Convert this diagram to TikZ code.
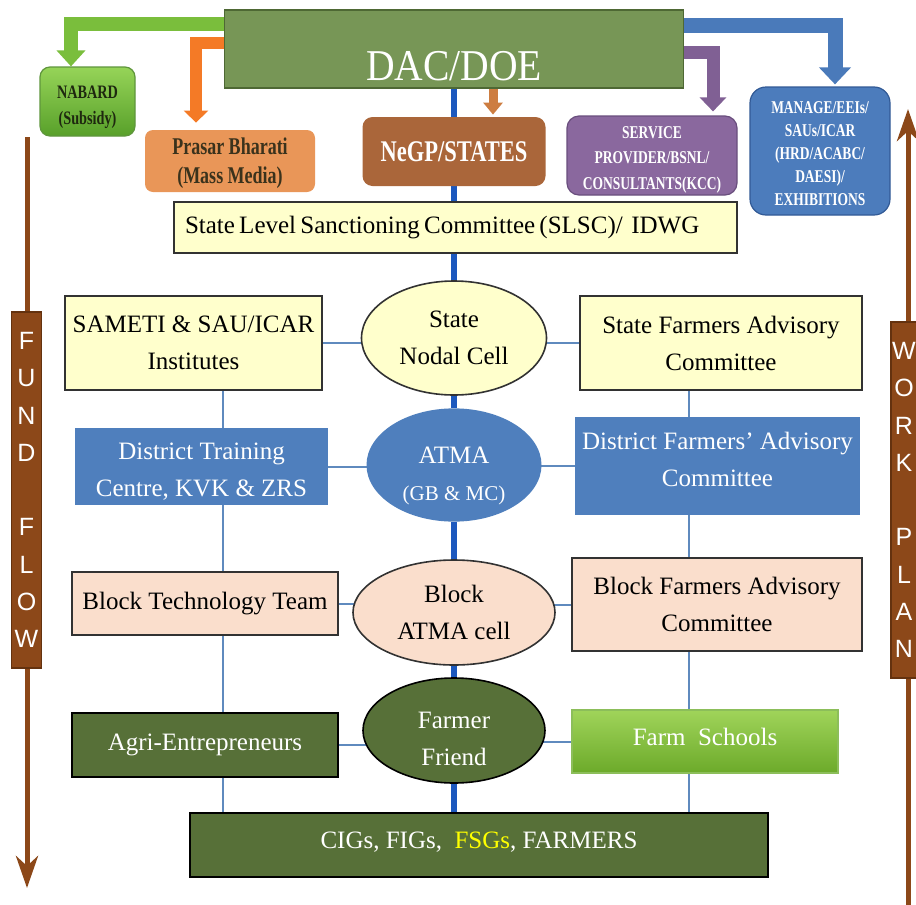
\documentclass[tikz,border=0pt]{standalone}
\usepackage{fontspec}
\setmainfont{Liberation Serif}
\setsansfont{Liberation Sans}
\newfontfamily\condfont[FakeStretch=0.75]{Liberation Serif}
\newfontfamily\semifont[FakeStretch=0.9]{Liberation Serif}
\usetikzlibrary{shapes.geometric,arrows.meta,backgrounds}
\definecolor{dacg}{RGB}{119,150,86}
\definecolor{dacb}{RGB}{78,104,52}
\definecolor{garr}{RGB}{122,190,60}
\definecolor{oarr}{RGB}{244,122,38}
\definecolor{parr}{RGB}{128,96,148}
\definecolor{barr}{RGB}{74,122,186}
\definecolor{brarr}{RGB}{205,125,65}
\definecolor{nbA}{RGB}{150,212,88}
\definecolor{nbB}{RGB}{88,160,42}
\definecolor{nbline}{RGB}{95,150,60}
\definecolor{nabtext}{RGB}{30,40,15}
\definecolor{prasf}{RGB}{233,150,88}
\definecolor{prast}{RGB}{58,50,28}
\definecolor{negpf}{RGB}{170,102,58}
\definecolor{servf}{RGB}{138,104,158}
\definecolor{servl}{RGB}{105,78,125}
\definecolor{manf}{RGB}{76,124,188}
\definecolor{manl}{RGB}{50,90,150}
\definecolor{ylw}{RGB}{255,255,204}
\definecolor{bline}{RGB}{50,50,50}
\definecolor{bluef}{RGB}{79,127,189}
\definecolor{pch}{RGB}{250,222,204}
\definecolor{dgr}{RGB}{87,112,56}
\definecolor{fsA}{RGB}{160,212,90}
\definecolor{fsB}{RGB}{108,170,42}
\definecolor{fsl}{RGB}{140,190,90}
\definecolor{fsg}{RGB}{255,255,0}
\definecolor{tcol}{RGB}{95,138,190}
\definecolor{ccol}{RGB}{28,88,190}
\definecolor{brn}{RGB}{140,72,25}
\definecolor{brnl}{RGB}{100,50,15}
% invisible struts to nudge text inside a node
\newcommand\upstrut[1]{\rule{0pt}{#1}}
\newcommand\dnstrut[1]{\rule[-#1]{0pt}{#1}}
\tikzset{
  sz/.style 2 args={minimum width=#1*0.5pt, minimum height=#2*0.5pt},
  base/.style={inner sep=0pt, align=center, font=\fontsize{12.5}{18.5}\selectfont},
  yel/.style={base, rectangle, fill=ylw, draw=bline, line width=0.8pt},
  yelell/.style={yel, ellipse},
  bluebox/.style={base, rectangle, fill=bluef, text=white},
  blueell/.style={bluebox, ellipse},
  peach/.style={base, rectangle, fill=pch, draw=bline, line width=0.8pt},
  peachell/.style={peach, ellipse},
  dgreen/.style={base, rectangle, fill=dgr, draw=black, line width=0.8pt, text=white},
  greenell/.style={dgreen, ellipse},
  fschool/.style={base, rectangle, top color=fsA, bottom color=fsB, draw=fsl, line width=0.6pt, text=white},
  dacbox/.style={inner sep=0pt, rectangle, fill=dacg, draw=dacb, line width=0.8pt, text=white,
    font=\semifont\fontsize{22}{26}\selectfont, text height=31pt, text depth=0pt},
  nab/.style={inner sep=0pt, align=center, rounded corners=5pt, top color=nbA, bottom color=nbB,
    draw=nbline, line width=0.6pt, text=nabtext, font=\condfont\bfseries\fontsize{9.5}{13}\selectfont},
  pras/.style={inner sep=0pt, align=center, rounded corners=4pt, fill=prasf, text=prast,
    font=\condfont\bfseries\fontsize{12}{14.5}\selectfont},
  negpst/.style={inner sep=0pt, align=center, rounded corners=5pt, fill=negpf, text=white,
    font=\condfont\bfseries\fontsize{15}{17}\selectfont},
  serv/.style={inner sep=0pt, align=center, rounded corners=6pt, fill=servf, draw=servl, line width=0.6pt,
    text=white, font=\condfont\bfseries\fontsize{9}{12.75}\selectfont},
  man/.style={inner sep=0pt, align=center, rounded corners=8pt, fill=manf, draw=manl, line width=0.6pt,
    text=white, font=\condfont\bfseries\fontsize{9}{11.5}\selectfont},
  flowbox/.style={inner sep=0pt, align=center, rectangle, fill=brn, draw=brnl, line width=0.6pt,
    text=white, font=\sffamily\fontsize{12.5}{18.65}\selectfont},
  garrow/.style={draw=garr, line width=7pt, -{Triangle[width=14pt,length=8pt]}},
  oarrow/.style={draw=oarr, line width=6pt, -{Triangle[width=12pt,length=6pt]}, shorten >=3.5pt},
  parrow/.style={draw=parr, line width=6.5pt, -{Triangle[width=13pt,length=7pt]}, shorten >=2pt},
  barrow/.style={draw=barr, line width=7.5pt, -{Triangle[width=15.5pt,length=8.5pt]}, shorten >=1pt},
  brarrow/.style={draw=brarr, line width=4.5pt, -{Triangle[width=9.5pt,length=6pt]}, shorten >=1pt},
  fund/.style={draw=brn, line width=2.5pt, -{Stealth[width=11pt,length=16pt,inset=5pt]}},
  tline/.style={draw=tcol, line width=1pt},
  cline/.style={draw=ccol, line width=3pt}
}
\begin{document}
\begin{tikzpicture}[x=0.5pt,y=-0.5pt]
\useasboundingbox (0,0) rectangle (916,905);

% top level
\node[dacbox, sz={459}{78}] (dac) at (454,49) {DAC/DOE};
\node[nab, sz={95}{69}] (nabard) at (87.5,101.5) {\upstrut{12.3pt}NABARD\\(Subsidy)};
\node[pras, sz={170}{62}] (prasar) at (230,161) {\upstrut{11pt}Prasar Bharati\\(Mass Media)};
\node[negpst, sz={183}{69}] (negp) at (454,151.5) {NeGP/STATES};
\node[serv, sz={170}{79}] (service) at (652,155.5) {\upstrut{10pt}SERVICE\\PROVIDER/BSNL/\\CONSULTANTS(KCC)};
\node[man, sz={140}{128}] (manage) at (820,151) {\upstrut{9pt}MANAGE/EEIs/\\SAUs/ICAR\\(HRD/ACABC/\\DAESI)/\\EXHIBITIONS};

% state level
\node[yel, sz={563}{51}] (slsc) at (455.5,227.5)
  {\makebox[270.5pt][l]{\spaceskip=0.17em plus 0.05em\relax State Level Sanctioning Committee (SLSC)/\ \ IDWG}};
\node[yelell, sz={185}{114}] (snc) at (454,338) {State\\Nodal Cell};
\node[yel, sz={257}{94}] (sameti) at (193.5,343) {SAMETI \& SAU/ICAR\\Institutes};
\node[yel, sz={282}{94}] (sfac) at (721,343) {State Farmers Advisory\\Committee};

% district level
\node[blueell, sz={175}{100}] (atma) at (454,465) {\upstrut{19.3pt}ATMA\\{\fontsize{10.5}{12}\selectfont(GB \& MC)}};
\node[bluebox, sz={253}{77}] (dtc) at (201.5,466.5) {\upstrut{13.3pt}District Training\\Centre, KVK \& ZRS};
\node[bluebox, sz={285}{98}] (dfac) at (717.5,466) {District Farmers’ Advisory\\Committee\dnstrut{7pt}};

% block level
\node[peachell, sz={202}{105}] (bac) at (454,612.5) {Block\\ATMA cell};
\node[peach, sz={266}{63}] (btt) at (205,603.5) {Block Technology Team};
\node[peach, sz={290}{93}] (bfac) at (717,604.5) {Block Farmers Advisory\\Committee};

% village level
\node[greenell, sz={182}{105}] (ff) at (454,730.5) {\upstrut{16.3pt}Farmer\\Friend};
\node[dgreen, sz={266}{64}] (ae) at (205,745) {Agri-Entrepreneurs};
\node[fschool, sz={266}{63}] (fs) at (705,741.5) {Farm\ \ Schools\dnstrut{5pt}};
\node[dgreen, sz={578}{64}] (cigs) at (479,845) {CIGs, FIGs,\ \ {\color{fsg}FSGs}, FARMERS\dnstrut{5pt}};

% side flows
\coordinate (ftop) at (27,137);
\coordinate (fbot) at (27,888);
\coordinate (wbot) at (908,905);
\coordinate (wtop) at (908,109);
\node[flowbox, sz={30}{356}] (fundbox) at (26.5,490) {F\\U\\N\\D\\[18.65pt]F\\L\\O\\W};
\node[flowbox, sz={26}{356}] (workbox) at (904,500) {W\\O\\R\\K\\[18.65pt]P\\L\\A\\N};

\coordinate (lx) at (223,0);
\coordinate (rx) at (689,0);

\begin{scope}[on background layer]
  \fill[white] (0,0) rectangle (916,905);
  % block arrows from DAC/DOE
  \draw[garrow] ([yshift=-7.5pt]dac.north west) -| ([xshift=-8.25pt]nabard.north);
  \draw[oarrow] ([yshift=-17pt]dac.north west) -| ([xshift=-17pt]prasar.north);
  \draw[parrow] ([yshift=-21.5pt]dac.north east) -| ([xshift=30.5pt]service.north);
  \draw[barrow] ([yshift=-8pt]dac.north east) -| ([xshift=7.5pt]manage.north);
  \draw[brarrow] ([xshift=19.5pt]dac.south) -- ([xshift=19.5pt]negp.north);
  % central spine
  \draw[cline] (dac.south) -- (negp.north);
  \draw[cline] (negp.south) -- (negp.south |- slsc.north);
  \draw[cline] (slsc.south -| snc.north) -- (snc.north);
  \draw[cline] (snc.south) -- (atma.north);
  \draw[cline] (atma.south) -- (bac.north);
  \draw[cline] (bac.south) -- (ff.north);
  \draw[cline] (ff.south) -- (ff.south |- cigs.north);
  % horizontal links
  \draw[tline] (sameti.east) -- (sameti.east -| snc.center);
  \draw[tline] (sfac.west) -- (sfac.west -| snc.center);
  \draw[tline] (dtc.east) -- (dtc.east -| atma.center);
  \draw[tline] (dfac.west) -- (dfac.west -| atma.center);
  \draw[tline] (btt.east) -- (btt.east -| bac.center);
  \draw[tline] (bfac.west) -- (bfac.west -| bac.center);
  \draw[tline] (ae.east) -- (ae.east -| ff.center);
  \draw[tline] (fs.west) -- (fs.west -| ff.center);
  % vertical links, left column
  \draw[tline] (sameti.south -| lx) -- (dtc.north -| lx);
  \draw[tline] (dtc.south -| lx) -- (btt.north -| lx);
  \draw[tline] (btt.south -| lx) -- (ae.north -| lx);
  \draw[tline] (ae.south -| lx) -- (cigs.north -| lx);
  % vertical links, right column
  \draw[tline] (sfac.south -| rx) -- (dfac.north -| rx);
  \draw[tline] (dfac.south -| rx) -- (bfac.north -| rx);
  \draw[tline] (bfac.south -| rx) -- (fs.north -| rx);
  \draw[tline] (fs.south -| rx) -- (cigs.north -| rx);
  % fund flow / work plan
  \draw[fund] (ftop) -- (fbot);
  \draw[fund] (wbot) -- (wtop);
\end{scope}
\end{tikzpicture}
\end{document}
